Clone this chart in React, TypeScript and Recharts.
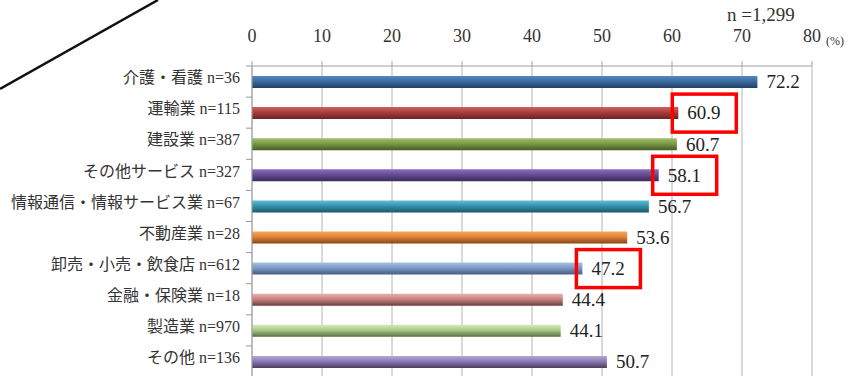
import { BarChart, Bar, XAxis, YAxis, CartesianGrid, Cell, LabelList } from "recharts";

const categories = [
  "介護・看護 n=36",
  "運輸業 n=115",
  "建設業 n=387",
  "その他サービス n=327",
  "情報通信・情報サービス業 n=67",
  "不動産業 n=28",
  "卸売・小売・飲食店 n=612",
  "金融・保険業 n=18",
  "製造業 n=970",
  "その他 n=136",
];
const values = [72.2, 60.9, 60.7, 58.1, 56.7, 53.6, 47.2, 44.4, 44.1, 50.7];
const highlighted = [false, true, false, true, false, false, true, false, false, false];
const xTicks = [0, 10, 20, 30, 40, 50, 60, 70, 80];

// [top, middle, bottom] shades for the cylinder look
const barColors = [
  ["#5a88c0", "#3a6aa0", "#243f62"],
  ["#d06060", "#a83c3c", "#642424"],
  ["#a0c068", "#7a9a48", "#465c26"],
  ["#8a70b8", "#664c94", "#3a2a58"],
  ["#60c0d8", "#3494ac", "#1e5666"],
  ["#f8a858", "#e0843a", "#844416"],
  ["#a8c0e4", "#7c98c4", "#465c84"],
  ["#eab0b0", "#c88480", "#6c3e3e"],
  ["#d4eab8", "#a8c88a", "#566c44"],
  ["#b8a8d8", "#8a7ab4", "#4c3e5e"],
];

const data = categories.map((label, i) => ({
  label,
  value: values[i],
}));

const LEFT = 252;
const TOP = 66;
const BAND = 31.1;
const FONT = '"Liberation Serif", "Noto Sans CJK JP", serif';

function YTick(props: any) {
  const { x, y, payload } = props;
  return (
    <g>
      <text x={x} y={y} dy={-2} textAnchor="end" dominantBaseline="middle" fontSize={16} fill="#333" fontFamily={FONT}>
        {payload.value}
      </text>
      <line x1={LEFT - 6} x2={LEFT} y1={y - BAND / 2} y2={y - BAND / 2} stroke="#999" />
    </g>
  );
}

function ValueLabel(props: any) {
  const { x, y, width, height, value, index } = props;
  const end = x + width;
  const cy = y + height / 2;
  return (
    <g>
      <text x={end + 9} y={cy + 2} dominantBaseline="middle" fontSize={19} fill="#222" fontFamily={FONT}>
        {value}
      </text>
      {highlighted[index] && (
        <rect x={end - 6} y={cy - 19} width={64} height={38} fill="none" stroke="#ff0000" strokeWidth={3.5} />
      )}
    </g>
  );
}

export default function App() {
  return (
    <div style={{ position: "absolute", left: 0, top: 0, width: 868, height: 376, background: "#fff", overflow: "hidden" }}>
      <BarChart
        width={868}
        height={380}
        data={data}
        layout="vertical"
        margin={{ top: 0, right: 56, bottom: 3, left: 0 }}
        barCategoryGap={0}
      >
        <defs>
          {barColors.map((c, i) => (
            <linearGradient key={i} id={`g${i}`} x1="0" y1="0" x2="0" y2="1">
              <stop offset="0%" stopColor={c[0]} />
              <stop offset="45%" stopColor={c[1]} />
              <stop offset="100%" stopColor={c[2]} />
            </linearGradient>
          ))}
        </defs>
        <CartesianGrid horizontal={false} stroke="#b4b4b4" />
        <XAxis
          type="number"
          orientation="top"
          domain={[0, 80]}
          ticks={xTicks}
          height={TOP}
          tick={{ fontSize: 18, fill: "#333", fontFamily: FONT }}
          tickSize={5}
          tickMargin={19}
          axisLine={{ stroke: "#a0a0a0" }}
          tickLine={{ stroke: "#a0a0a0" }}
        />
        <YAxis
          type="category"
          dataKey="label"
          width={LEFT}
          tick={<YTick />}
          tickLine={false}
          tickSize={6}
          tickMargin={6}
          axisLine={{ stroke: "#a0a0a0" }}
          interval={0}
        />
        <Bar dataKey="value" barSize={12} isAnimationActive={false}>
          {data.map((_, i) => (
            <Cell key={i} fill={`url(#g${i})`} />
          ))}
          <LabelList dataKey="value" content={<ValueLabel />} />
        </Bar>
      </BarChart>
      <div style={{ position: "absolute", left: 727, top: 5, fontSize: 19, fontFamily: FONT, color: "#333", lineHeight: 1.1 }}>n =1,299</div>
      <div style={{ position: "absolute", left: 826, top: 34, fontSize: 12, fontFamily: FONT, color: "#333" }}>(%)</div>
      <svg width={868} height={376} style={{ position: "absolute", left: 0, top: 0, pointerEvents: "none" }}>
        <line x1={0} y1={89} x2={158} y2={0} stroke="#111" strokeWidth={2.5} />
      </svg>
    </div>
  );
}
